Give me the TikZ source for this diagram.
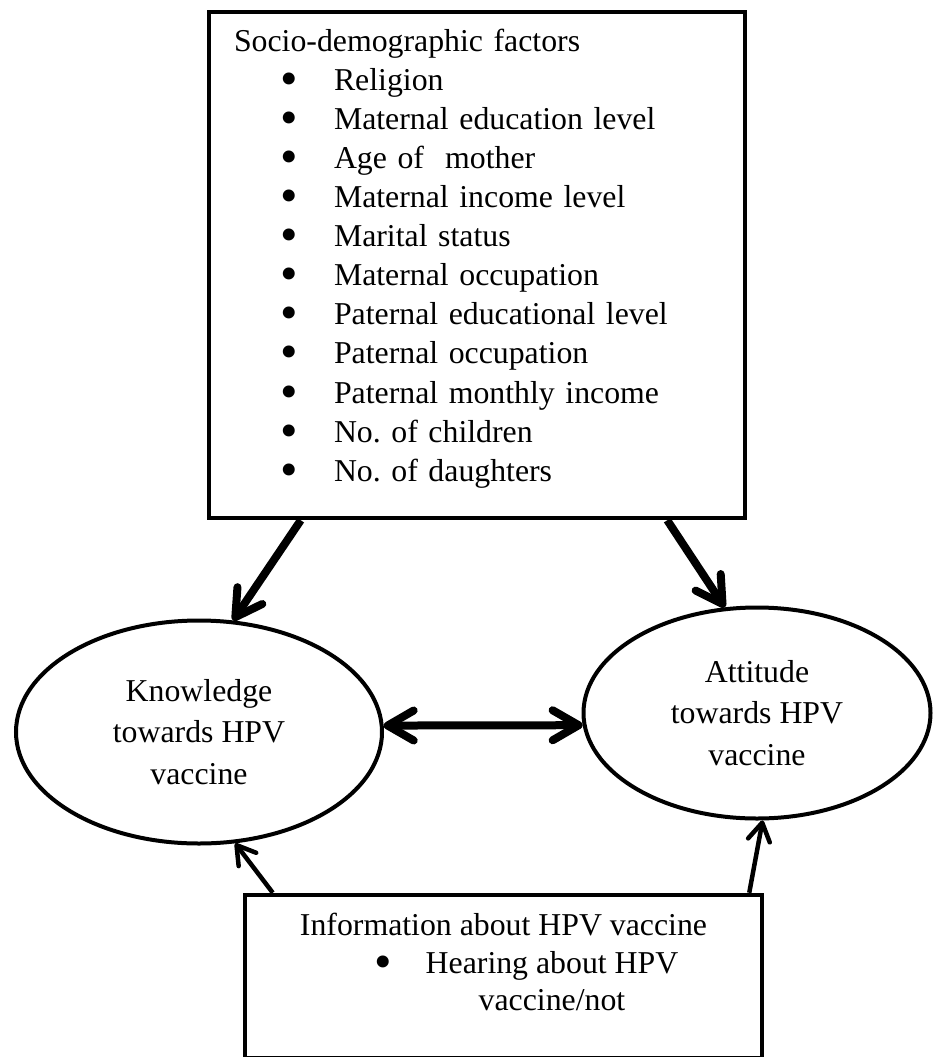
\documentclass[tikz,border=0pt]{standalone}
\usepackage{fontspec}
\setmainfont{Liberation Serif}
\usetikzlibrary{arrows.meta,shapes.geometric}
\newcommand{\bigdot}{\raisebox{-5pt}{\fontsize{50}{50}\selectfont\textbullet}}
\newcommand{\bitem}[1]{\hspace*{55pt}\makebox[0pt]{\bigdot}\hspace*{45pt}#1}

\begin{document}
\begin{tikzpicture}[x=1pt, y=-1pt,
    box/.style={rectangle, draw, line width=4.5pt},
    oval/.style={ellipse, draw, line width=4pt, align=center, inner sep=0pt,
                 font=\fontsize{31.8}{41.5}\selectfont},
    txt/.style={font=\fontsize{31.8}{37}\selectfont, inner sep=0pt},
    arr/.style={-{Straight Barb[length=26pt, width=30pt, round]}, line width=8pt},
    dblarr/.style={{Straight Barb[length=26pt, width=30pt, round]}-{Straight Barb[length=26pt, width=30pt, round]}, line width=8pt},
    thinarr/.style={-{Straight Barb[length=18pt, width=22pt, round]}, line width=4.5pt},
  ]
  \useasboundingbox (0,0) rectangle (934,1057);

  % Socio-demographic factors
  \node[box, text width=486pt, inner xsep=25pt, minimum height=506pt, align=left,
        font=\fontsize{31.8}{39.1}\selectfont] (socio) at (477,265)
    {Socio-demographic factors\\
     \bitem{Religion}\\
     \bitem{Maternal education level}\\
     \bitem{Age of~ mother}\\
     \bitem{Maternal income level}\\
     \bitem{Marital status}\\
     \bitem{Maternal occupation}\\
     \bitem{Paternal educational level}\\
     \bitem{Paternal occupation}\\
     \bitem{Paternal monthly income}\\
     \bitem{No.\ of children}\\
     \bitem{No.\ of daughters}\rule[-20pt]{0pt}{0pt}};

  % Knowledge and attitude
  \node[oval, minimum width=366pt, minimum height=223pt] (know) at (199,732)
    {Knowledge\\towards HPV\\vaccine};
  \node[oval, minimum width=347pt, minimum height=211pt] (att) at (757,713)
    {Attitude\\towards HPV\\vaccine};

  % Information about HPV vaccine
  \node[box, minimum width=517pt, minimum height=163pt] (info) at (503.5,976.5) {};
  \node[txt, anchor=base] (infotitle) at (503.5,935) {Information about HPV vaccine};
  \node[txt, anchor=base, align=center] (hearing) at (552,1010)
    {\llap{\makebox[0pt]{\bigdot}\hspace{42pt}}Hearing about HPV\\vaccine/not};

  \draw[arr] ([xshift=94pt]socio.south west) -- (know.73);
  \draw[arr] ([xshift=-80pt]socio.south east) -- (att.107);
  \draw[dblarr] (know.2) -- (att.184);
  \draw[thinarr] ([xshift=30pt]info.north west) -- (know.-72);
  \draw[thinarr] ([xshift=-15pt]info.north east) -- (att.-87);

\end{tikzpicture}
\end{document}
